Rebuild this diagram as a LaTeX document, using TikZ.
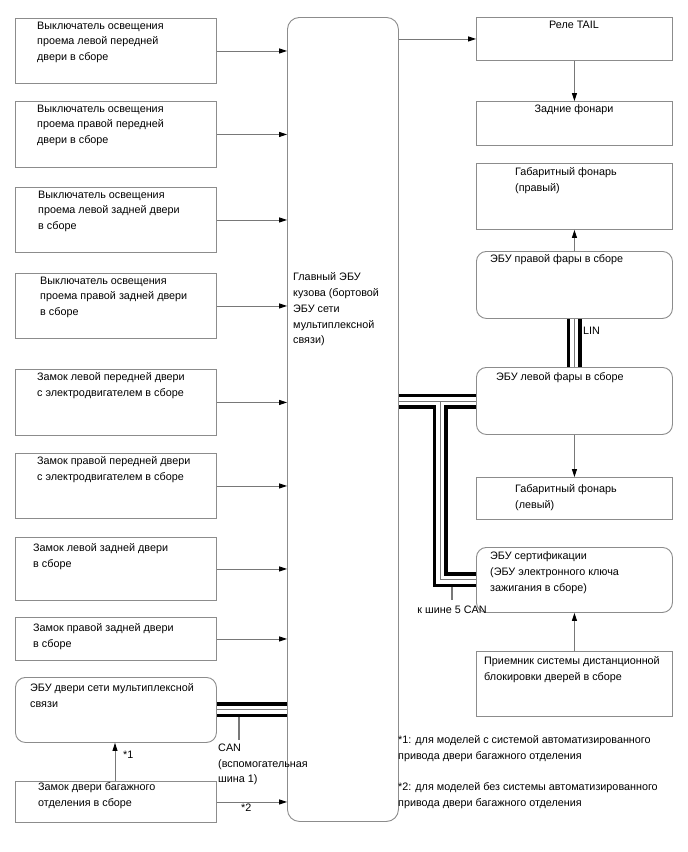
\documentclass[tikz,border=0pt]{standalone}
\usepackage{fontspec}
\setmainfont{Liberation Sans}
\usetikzlibrary{arrows.meta,calc}
\definecolor{boxgray}{RGB}{140,140,140}
\definecolor{linegray}{RGB}{120,120,120}
\newcommand{\fsl}{\fontsize{10.8}{15.8}\selectfont}
\begin{document}
\begin{tikzpicture}[x=1pt,y=-1pt,
 box/.style={draw=boxgray, line width=0.9pt, inner sep=0pt, anchor=north west},
 rbox/.style={box, rounded corners=10pt},
 txt/.style={inner sep=0pt, anchor=north west, align=left, font=\fsl},
 mtxt/.style={inner sep=0pt, anchor=north, align=center, font=\fsl},
 arr/.style={draw=linegray, line width=0.9pt, -{Triangle[length=8pt,width=5pt,color=black]}},
 busblack/.style={draw=black, line width=15pt},
 buswhite/.style={draw=white, line width=8pt},
 busgray/.style={draw=linegray, line width=1pt},
 stub/.style={draw=linegray, line width=1.4pt}
]
\useasboundingbox[fill=white] (0,0) rectangle (688,852);

% left column boxes
\node[box, minimum width=201pt, minimum height=65pt] (b1) at (15,18) {};
\node[box, minimum width=201pt, minimum height=66pt] (b2) at (15,101) {};
\node[box, minimum width=201pt, minimum height=65pt] (b3) at (15,187) {};
\node[box, minimum width=201pt, minimum height=65pt] (b4) at (15,273) {};
\node[box, minimum width=201pt, minimum height=66pt] (b5) at (15,369) {};
\node[box, minimum width=201pt, minimum height=65pt] (b6) at (15,453) {};
\node[box, minimum width=201pt, minimum height=63pt] (b7) at (15,537) {};
\node[box, minimum width=201pt, minimum height=43pt] (b8) at (15,617) {};
\node[rbox, minimum width=201pt, minimum height=65pt] (b9) at (15,677) {};
\node[box, minimum width=201pt, minimum height=41pt] (b10) at (15,781) {};

\node[txt] (t1) at (37,21.5) {Выключатель освещения\\проема левой передней\\двери в сборе};
\node[txt] (t2) at (37,104.5) {Выключатель освещения\\проема правой передней\\двери в сборе};
\node[txt] (t3) at (38,190.5) {Выключатель освещения\\проема левой задней двери\\в сборе};
\node[txt] (t4) at (40,276.5) {Выключатель освещения\\проема правой задней двери\\в сборе};
\node[txt] (t5) at (37,372.5) {Замок левой передней двери\\с электродвигателем в сборе};
\node[txt] (t6) at (37,456.5) {Замок правой передней двери\\с электродвигателем в сборе};
\node[txt] (t7) at (33,543.5) {Замок левой задней двери\\в сборе};
\node[txt] (t8) at (33,623.5) {Замок правой задней двери\\в сборе};
\node[txt] (t9) at (30,683.5) {ЭБУ двери сети мультиплексной\\связи};
\node[txt] (t10) at (38,782.5) {Замок двери багажного\\отделения в сборе};

% main box
\node[rbox, rounded corners=12pt, minimum width=111pt, minimum height=804pt] (main) at (287,17) {};
\node[txt] (tm) at (293,272.5) {Главный ЭБУ\\кузова (бортовой\\ЭБУ сети\\мультиплексной\\связи)};

% right column
\node[box, minimum width=196pt, minimum height=43pt] (r1) at (476,17) {};
\node[box, minimum width=196pt, minimum height=44pt] (r2) at (476,101) {};
\node[box, minimum width=196pt, minimum height=66pt] (r3) at (476,163) {};
\node[rbox, minimum width=196pt, minimum height=67pt] (r4) at (476,251) {};
\node[rbox, minimum width=196pt, minimum height=67pt] (r5) at (476,367) {};
\node[box, minimum width=196pt, minimum height=42pt] (r6) at (476,477) {};
\node[rbox, minimum width=196pt, minimum height=65pt] (r7) at (476,547) {};
\node[box, minimum width=196pt, minimum height=65pt] (r8) at (476,651) {};

\node[mtxt] (tr1) at (574,20.5) {Реле TAIL};
\node[mtxt] (tr2) at (574,104.5) {Задние фонари};
\node[txt] (tr3) at (515,167.5) {Габаритный фонарь\\(правый)};
\node[txt] (tr4) at (490,254.5) {ЭБУ правой фары в сборе};
\node[txt] (tr5) at (496,372.5) {ЭБУ левой фары в сборе};
\node[txt] (tr6) at (515,484.5) {Габаритный фонарь\\(левый)};
\node[txt] (tr7) at (490,551.5) {ЭБУ сертификации\\(ЭБУ электронного ключа\\зажигания в сборе)};
\node[txt] (tr8) at (484,656.5) {Приемник системы дистанционной\\блокировки дверей в сборе};

% arrows left -> main
\foreach \b in {b1,b2,b3,b4,b5,b6,b7,b8,b10}
  \draw[arr] (\b.east) -- (\b.east -| main.west);

% main -> relay and right column arrows
\draw[arr] (r1.west -| main.east) -- (r1.west);
\draw[arr] (r1.south) -- (r2.north);
\draw[arr] (r4.north) -- (r3.south);
\draw[arr] (r5.south) -- (r6.north);
\draw[arr] (r8.north) -- (r7.south);

% *1 arrow
\coordinate (a1) at (115,0);
\draw[arr] (a1 |- b10.north) -- (a1 |- b9.south);
\node[txt] (n1) at (123,751) {*1};
\node[txt] (n2) at (241,804) {*2};

% stubs
\coordinate (s1) at (239,740);
\coordinate (s2) at (452,600);
\coordinate (j1) at (440,401);
\draw[stub] (s1 |- b9.east) -- (s1);
\draw[stub] (s2 |- r7.west) -- (s2);

% buses
\foreach \st in {busblack,buswhite,busgray}{
  \path[\st] (b9.east) -- (b9.east -| main.west);
  \path[\st] (j1 -| main.east) -- (j1 -| r5.west);
  \path[\st] (j1) -- (j1 |- r7.west) -- (r7.west);
  \path[\st] (r4.south) -- (r5.north);
}

\node[txt] (can) at (218,743.5) {CAN\\(вспомогательная\\шина 1)};
\node[txt] (lin) at (583,326.5) {LIN};
\node[mtxt] (can5) at (452,605.5) {к шине 5 CAN};

\node[txt] (note1) at (398,735.5) {*1: для моделей с системой автоматизированного\\привода двери багажного отделения};
\node[txt] (note2) at (398,782.5) {*2: для моделей без системы автоматизированного\\привода двери багажного отделения};
\end{tikzpicture}
\end{document}
